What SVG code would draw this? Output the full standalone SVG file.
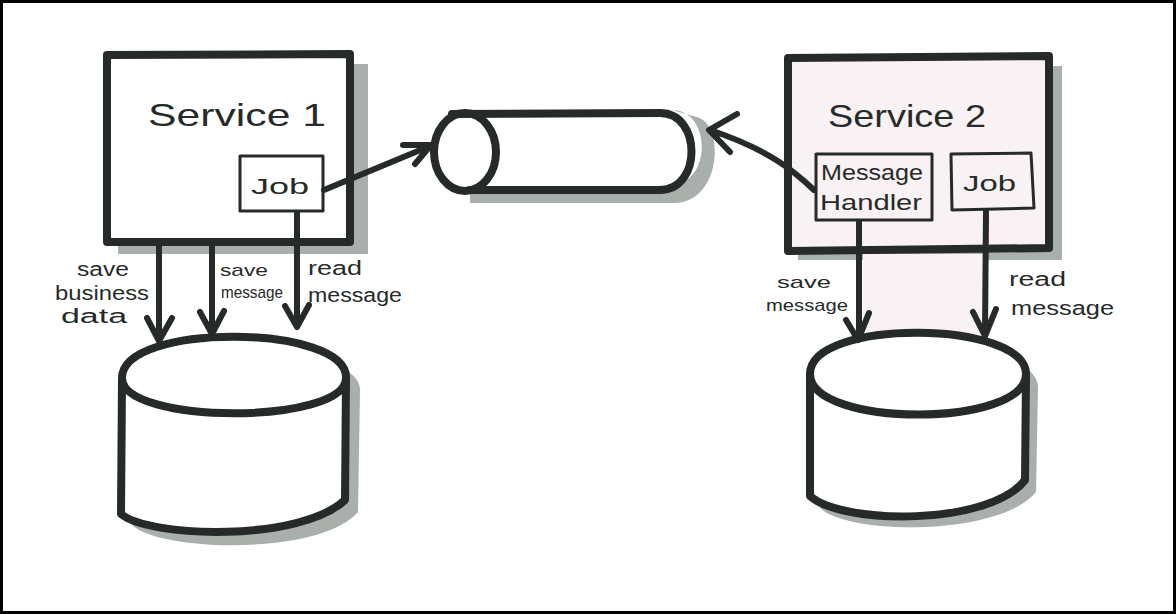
<svg xmlns="http://www.w3.org/2000/svg" width="1176" height="614" viewBox="0 0 1176 614">
<style>
.ink{fill:none;stroke:#262b29;stroke-linecap:round;stroke-linejoin:round}
.thick{stroke-width:8}
.med{stroke-width:6}
.thin{stroke-width:3}
.shadow{fill:#a9afab;stroke:none}
.lbl{font-family:"Liberation Sans","DejaVu Sans",sans-serif;fill:#262b29;font-size:20px}
.sm{font-size:17px}
.big{font-family:"Liberation Sans","DejaVu Sans",sans-serif;fill:#262b29;font-size:32px;font-weight:300}
.box{font-family:"Liberation Sans","DejaVu Sans",sans-serif;fill:#262b29;font-size:22px}
</style>
<rect x="0" y="0" width="1176" height="614" fill="#ffffff"/>
<rect x="1.5" y="1.5" width="1173" height="611" fill="none" stroke="#000" stroke-width="3"/>

<!-- Service 1 -->
<g id="service1">
<rect class="shadow" x="118" y="64" width="250" height="190"/>
<rect x="107" y="55" width="243" height="187" fill="#ffffff"/>
<path class="ink thick" d="M107,55 L350,54 L350,242 L107,242 Z"/>
<text class="big" x="148" y="126" textLength="178" lengthAdjust="spacingAndGlyphs">Service 1</text>
</g>
<g id="job1">
<rect x="240" y="156" width="83" height="55" fill="#ffffff" class="ink thin"/>
<text class="box" x="251" y="194" textLength="58" lengthAdjust="spacingAndGlyphs">Job</text>
</g>

<!-- Queue -->
<g id="queue">
<path class="shadow" d="M470,185 L670,185 C712,185 712,110 672,110 L700,118 C725,130 720,205 672,203 L470,203 Z"/>
<path d="M465,113 L660,113 C702,113 702,190 660,190 L465,190 Z" fill="#ffffff"/>
<path class="ink thick" d="M452,114 L660,113 C702,113 702,190 660,190 L470,190"/>
<ellipse cx="465" cy="152" rx="31" ry="39" fill="#ffffff" class="ink thick"/>
</g>

<!-- Service 2 -->
<g id="service2">
<rect class="shadow" x="798" y="66" width="264" height="194"/>
<rect x="788" y="57" width="261" height="192" fill="#f8f2f4"/>
<path class="ink thick" d="M788,58 L1049,56 L1049,248 L788,251 Z"/>
<text class="big" x="828" y="127" textLength="158" lengthAdjust="spacingAndGlyphs">Service 2</text>
</g>
<g id="handler">
<rect x="816" y="154" width="116" height="66" fill="#ffffff" class="ink thin"/>
<text class="box" x="821" y="180" textLength="102" lengthAdjust="spacingAndGlyphs">Message</text>
<text class="box" x="820" y="210" textLength="102" lengthAdjust="spacingAndGlyphs">Handler</text>
</g>
<g id="job2">
<path d="M951,154 L1031,153 L1034,208 L952,210 Z" fill="#ffffff" class="ink thin"/>
<text class="box" x="963" y="191" textLength="53" lengthAdjust="spacingAndGlyphs">Job</text>
</g>
<rect x="863" y="254" width="120" height="84" fill="#f8f2f4"/>

<!-- Database 1 -->
<g id="db1">
<path class="shadow" d="M132,390 C132,340 362,340 360,390 L358,512 C320,556 160,552 132,525 Z"/>
<path d="M122,375 C122,322 348,322 348,375 L346,500 C300,540 150,538 122,514 Z" fill="#ffffff"/>
<path class="ink thick" d="M122,378 C122,322 348,324 346,378 C346,425 122,425 122,378 Z"/>
<path class="ink thick" d="M122,380 L121,514 C150,538 300,542 345,500 L346,380"/>
</g>

<!-- Database 2 -->
<g id="db2">
<path class="shadow" d="M820,388 C820,335 1040,335 1038,388 L1036,492 C1000,536 850,536 820,508 Z"/>
<path d="M810,372 C810,318 1026,318 1026,372 L1025,480 C990,525 840,525 810,495 Z" fill="#ffffff"/>
<path class="ink thick" d="M810,374 C810,318 1026,320 1026,374 C1026,428 810,428 810,374 Z"/>
<path class="ink thick" d="M810,376 L810,496 C842,525 990,526 1025,480 L1026,376"/>
</g>

<!-- Connectors -->
<g id="connectors">
<path class="ink med" d="M159,246 L159,340 M147,318 L159,341 L172,318"/>
<path class="ink med" d="M212,246 L212,333 M200,312 L212,334 L224,311"/>
<path class="ink med" d="M297,213 L297,326 M285,306 L297,327 L309,305"/>
<path class="ink med" d="M324,190 L430,146 M403,145 L431,145 L415,164"/>
<path class="ink med" d="M859,222 L859,339 M846,320 L858,340 L869,313"/>
<path class="ink med" d="M986,211 L985,335 M973,312 L985,336 L996,309"/>
<path class="ink med" d="M814,190 C795,172 770,150 710,130 M737,114 L709,130 L730,152"/>
</g>

<!-- Labels -->
<g id="labels">
<text class="lbl" x="77" y="276" textLength="52" lengthAdjust="spacingAndGlyphs">save</text>
<text class="lbl" x="55" y="300" textLength="94" lengthAdjust="spacingAndGlyphs">business</text>
<text class="lbl" x="61" y="323" textLength="66" lengthAdjust="spacingAndGlyphs">data</text>
<text class="lbl sm" x="220" y="276" textLength="48" lengthAdjust="spacingAndGlyphs">save</text>
<text class="lbl sm" x="221" y="298" textLength="62" lengthAdjust="spacingAndGlyphs">message</text>
<text class="lbl" x="308" y="275" textLength="54" lengthAdjust="spacingAndGlyphs">read</text>
<text class="lbl" x="308" y="302" textLength="94" lengthAdjust="spacingAndGlyphs">message</text>
<text class="lbl sm" x="777" y="288" textLength="54" lengthAdjust="spacingAndGlyphs">save</text>
<text class="lbl sm" x="766" y="311" textLength="82" lengthAdjust="spacingAndGlyphs">message</text>
<text class="lbl" x="1009" y="286" textLength="57" lengthAdjust="spacingAndGlyphs">read</text>
<text class="lbl" x="1011" y="315" textLength="103" lengthAdjust="spacingAndGlyphs">message</text>
</g>
</svg>
